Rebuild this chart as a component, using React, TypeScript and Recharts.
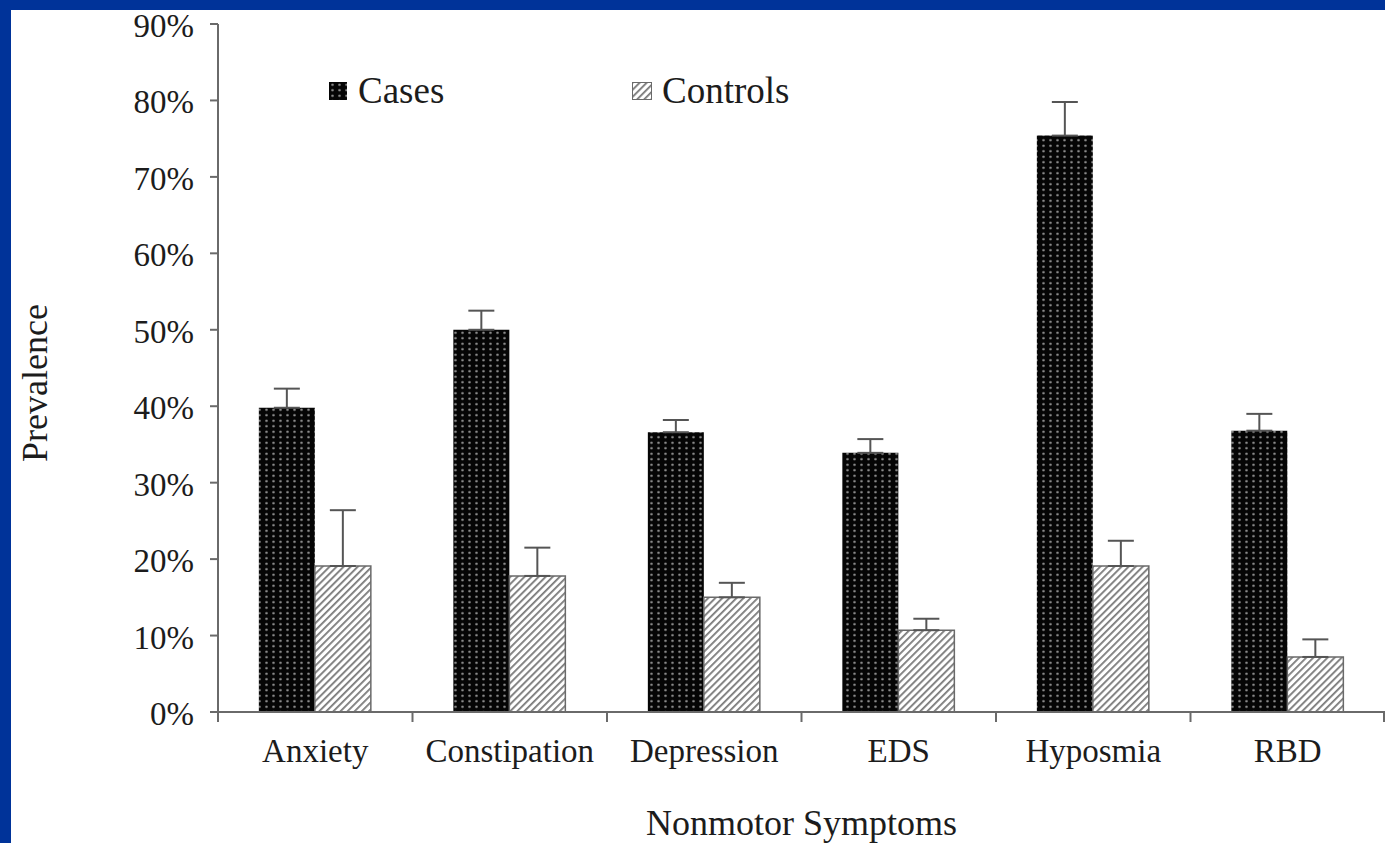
import { BarChart, Bar, XAxis, YAxis, ErrorBar } from "recharts";

const categories = ["Anxiety", "Constipation", "Depression", "EDS", "Hyposmia", "RBD"];
const cases = [39.8, 50.0, 36.6, 33.9, 75.4, 36.8];
const casesErr = [2.5, 2.5, 1.6, 1.8, 4.4, 2.2];
const controls = [19.1, 17.8, 15.0, 10.7, 19.1, 7.2];
const controlsErr = [7.3, 3.7, 1.9, 1.5, 3.3, 2.3];
const yTicks = [0, 10, 20, 30, 40, 50, 60, 70, 80, 90];

const data = categories.map((name, i) => ({
  name,
  cases: cases[i],
  casesErr: [0, casesErr[i]],
  controls: controls[i],
  controlsErr: [0, controlsErr[i]],
}));

const FONT = "'Liberation Serif', 'Times New Roman', serif";
const INK = "#1c1c1c";
const AXIS = "#6a6a6a";
const W = 1374;
const H = 843;
const Y_AXIS_W = 207;
const HALF_BAND = (W - Y_AXIS_W) / categories.length / 2;

const XTick = (props: any) => {
  const { x, y, payload } = props;
  const half = payload?.offset || HALF_BAND;
  const axisY = y - 8;
  return (
    <g>
      <line x1={x - half} x2={x - half} y1={axisY} y2={axisY + 10} stroke={AXIS} strokeWidth={2} />
      {payload.index === categories.length - 1 && (
        <line x1={x + half - 1} x2={x + half - 1} y1={axisY} y2={axisY + 10} stroke={AXIS} strokeWidth={2} />
      )}
      <text x={x} y={axisY + 50} textAnchor="middle" fontFamily={FONT} fontSize={33} fill={INK}>
        {payload.value}
      </text>
    </g>
  );
};

const YTick = (props: any) => {
  const { x, y, payload } = props;
  return (
    <text x={x} y={y + 2} textAnchor="end" dominantBaseline="central" fontFamily={FONT} fontSize={33} fill={INK}>
      {`${payload.value}%`}
    </text>
  );
};

// legend sits over the plot, so keep it out of the chart's layout
const ChartLegend = () => (
  <div style={{ position: "absolute", left: 329, top: 71, height: 40, width: 600, fontFamily: FONT, fontSize: 37, color: INK }}>
    <div style={{ position: "absolute", left: 0, top: 0, display: "flex", alignItems: "center" }}>
      <svg width={18} height={18} style={{ marginRight: 11 }}>
        <rect x={0} y={0} width={18} height={18} fill="url(#dotPat)" />
      </svg>
      <span style={{ lineHeight: "40px" }}>Cases</span>
    </div>
    <div style={{ position: "absolute", left: 303, top: 0, display: "flex", alignItems: "center" }}>
      <svg width={20} height={18} style={{ marginRight: 10 }}>
        <rect x={0.5} y={0.5} width={19} height={17} fill="url(#hatchPat)" stroke={AXIS} />
      </svg>
      <span style={{ lineHeight: "40px" }}>Controls</span>
    </div>
  </div>
);

export default function App() {
  return (
    <div style={{ position: "absolute", left: 0, top: 0, width: 1385, height: 843, background: "#003399" }}>
      <div style={{ position: "absolute", left: 11, top: 10, width: W, height: 833, background: "#ffffff" }} />
      <div style={{ position: "absolute", left: 11, top: 0 }}>
        <BarChart
          width={W}
          height={H}
          data={data}
          margin={{ top: 24, right: 0, left: 0, bottom: 0 }}
          barCategoryGap="21%"
          barGap={0}
        >
          <defs>
            <pattern id="dotPat" width="7" height="5.5" patternUnits="userSpaceOnUse">
              <rect width="7" height="5.5" fill="#050505" />
              <ellipse cx="3.5" cy="2.75" rx="1.3" ry="1.1" fill="#8a8a8a" />
            </pattern>
            <pattern id="hatchPat" width="5" height="5" patternUnits="userSpaceOnUse" patternTransform="rotate(45)">
              <rect width="5" height="5" fill="#ffffff" />
              <rect x="0" y="0" width="1.8" height="5" fill="#7a7a7a" />
            </pattern>
          </defs>
          <XAxis
            dataKey="name"
            height={131}
            axisLine={{ stroke: AXIS, strokeWidth: 2 }}
            tickLine={false}
            tick={<XTick />}
            interval={0}
            label={{
              content: (p: any) => {
                const vb = p.viewBox || { x: Y_AXIS_W, width: W - Y_AXIS_W };
                return (
                  <text x={vb.x + vb.width / 2} y={835} textAnchor="middle" fontFamily={FONT} fontSize={36} fill={INK}>
                    Nonmotor Symptoms
                  </text>
                );
              },
            }}
          />
          <YAxis
            width={Y_AXIS_W}
            domain={[0, 90]}
            ticks={yTicks}
            interval={0}
            axisLine={{ stroke: AXIS, strokeWidth: 2 }}
            tickLine={{ stroke: AXIS, strokeWidth: 2 }}
            tickSize={8}
            tickMargin={16}
            tick={<YTick />}
            label={{
              content: () => (
                <text
                  x={24}
                  y={383}
                  textAnchor="middle"
                  dominantBaseline="central"
                  transform="rotate(-90 24 383)"
                  fontFamily={FONT}
                  fontSize={36}
                  fill={INK}
                >
                  Prevalence
                </text>
              ),
            }}
          />
          <Bar dataKey="cases" fill="url(#dotPat)" isAnimationActive={false}>
            <ErrorBar dataKey="casesErr" direction="y" width={13} stroke="#555" strokeWidth={2} isAnimationActive={false} />
          </Bar>
          <Bar dataKey="controls" fill="url(#hatchPat)" stroke={AXIS} strokeWidth={1.5} isAnimationActive={false}>
            <ErrorBar dataKey="controlsErr" direction="y" width={13} stroke="#555" strokeWidth={2} isAnimationActive={false} />
          </Bar>
        </BarChart>
      </div>
      <ChartLegend />
    </div>
  );
}
